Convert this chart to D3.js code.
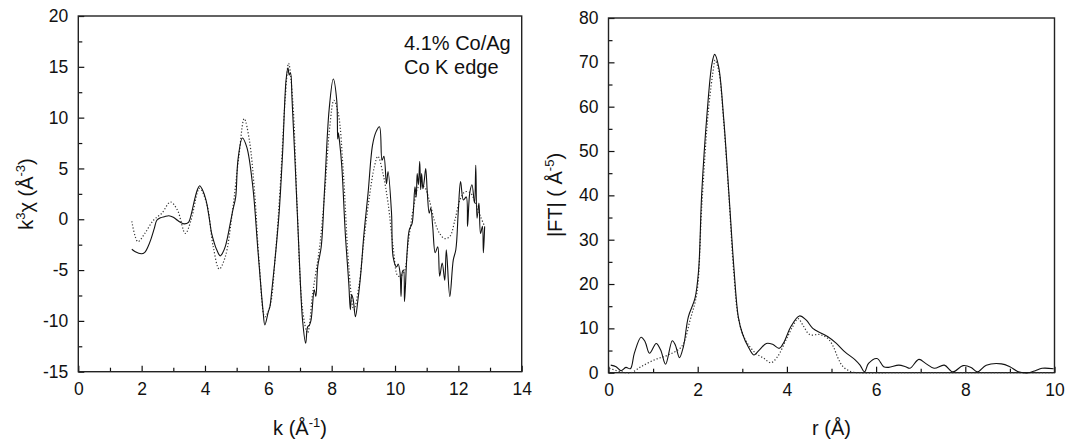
<!DOCTYPE html>
<html>
<head>
<meta charset="utf-8">
<script src="https://cdn.jsdelivr.net/npm/d3@7"></script>
<style>
  body { margin: 0; background: #fff; }
  text { font-family: "Liberation Sans", Arial, sans-serif; fill: #111; }
</style>
</head>
<body>
<div id="chart"></div>
<script>
// k-space EXAFS, experiment (solid) and fit (dotted)
const kExp = [1.69, 1.8, 1.99, 2.1, 2.2, 2.3, 2.4, 2.48, 2.6, 2.72, 2.86, 3.0, 3.13, 3.22, 3.34, 3.48, 3.56, 3.67, 3.76, 3.83, 3.92, 4.03, 4.12, 4.21, 4.3, 4.35, 4.48, 4.56, 4.64, 4.71, 4.78, 4.88, 4.97, 5.04, 5.18, 5.32, 5.51, 5.67, 5.83, 5.89, 6.0, 6.05, 6.1, 6.21, 6.34, 6.45, 6.56, 6.62, 6.66, 6.7, 6.75, 6.86, 6.97, 7.08, 7.18, 7.24, 7.3, 7.35, 7.45, 7.5, 7.56, 7.67, 7.78, 7.92, 8.05, 8.16, 8.19, 8.21, 8.25, 8.32, 8.43, 8.54, 8.59, 8.63, 8.68, 8.75, 8.83, 8.92, 9.02, 9.15, 9.29, 9.4, 9.51, 9.59, 9.65, 9.73, 9.78, 9.89, 9.94, 10.05, 10.1, 10.16, 10.19, 10.23, 10.27, 10.3, 10.38, 10.45, 10.54, 10.63, 10.67, 10.7, 10.74, 10.78, 10.81, 10.84, 10.88, 10.92, 10.97, 11.02, 11.08, 11.13, 11.19, 11.27, 11.35, 11.41, 11.49, 11.57, 11.62, 11.73, 11.84, 11.92, 12.0, 12.07, 12.16, 12.25, 12.29, 12.36, 12.43, 12.51, 12.55, 12.59, 12.65, 12.7, 12.76, 12.79, 12.83];
const chiExp = [-2.95, -3.2, -3.4, -3.25, -2.7, -1.9, -0.9, -0.1, 0.15, 0.25, 0.35, 0.2, -0.1, -0.3, -0.45, -0.3, 0.4, 1.9, 2.9, 3.3, 2.9, 1.9, 0.4, -1.4, -2.4, -2.85, -3.6, -3.3, -2.7, -1.8, -0.7, 0.9, 2.2, 5.8, 8.0, 7.1, 3.2, -3.0, -8.9, -10.4, -9.1, -8.6, -7.3, -4.0, 0.6, 6.5, 13.7, 14.9, 14.2, 14.4, 11.7, 4.5, -3.3, -9.9, -12.2, -10.6, -10.4, -9.9, -6.95, -7.6, -4.65, -2.7, 3.2, 10.8, 13.8, 11.7, 7.9, 8.5, 7.6, 5.2, -1.4, -6.3, -8.9, -7.4, -7.9, -9.6, -7.9, -5.3, -1.4, 2.6, 7.3, 8.6, 9.1, 5.8, 6.2, 3.5, 4.7, 0.6, -3.7, -4.7, -4.4, -5.3, -7.6, -5.2, -5.0, -8.1, -3.3, -1.05, -0.4, 3.2, 2.2, 4.5, 3.4, 5.7, 2.9, 4.5, 3.0, 3.7, 5.0, 2.6, 0.6, 1.1, -0.7, -3.3, -2.7, -5.6, -4.3, -6.0, -3.0, -7.6, -4.0, -3.0, 0.9, 3.7, 1.9, 2.2, -0.7, 2.6, 3.4, 1.6, 5.3, 0.1, 1.6, -1.4, -0.7, -3.3, -0.7];

const kFit = [1.69, 1.88, 2.1, 2.37, 2.64, 2.91, 3.13, 3.38, 3.56, 3.83, 4.05, 4.26, 4.45, 4.64, 4.86, 5.07, 5.24, 5.4, 5.56, 5.72, 5.89, 6.05, 6.21, 6.37, 6.53, 6.64, 6.77, 6.91, 7.08, 7.24, 7.4, 7.62, 7.78, 7.94, 8.07, 8.21, 8.37, 8.54, 8.7, 8.86, 9.02, 9.19, 9.35, 9.46, 9.62, 9.78, 9.94, 10.1, 10.27, 10.43, 10.59, 10.75, 10.92, 11.08, 11.24, 11.41, 11.57, 11.73, 11.89, 12.05, 12.21, 12.38, 12.54, 12.7, 12.83];
const chiFit = [-0.2, -2.2, -1.4, -0.1, 0.6, 1.7, 0.9, -1.4, -0.1, 3.05, 1.6, -2.7, -4.9, -3.7, 0.6, 6.2, 9.9, 7.8, 2.9, -4.65, -9.6, -8.6, -4.0, 2.9, 11.7, 15.35, 11.7, 1.25, -8.9, -11.2, -7.3, -2.7, 2.6, 9.1, 11.7, 10.4, 4.5, -4.65, -8.9, -6.6, -2.0, 2.2, 5.2, 6.2, 4.5, 1.6, -2.7, -5.6, -5.3, -2.0, 1.25, 3.2, 3.2, 1.9, -0.1, -1.4, -1.9, -1.7, -0.1, 1.9, 2.7, 2.6, 1.6, 0.26, -0.7];

// Fourier transform magnitude, experiment (solid) and fit (dotted)
const rExp = [0.05, 0.17, 0.28, 0.39, 0.49, 0.58, 0.73, 0.82, 0.92, 1.07, 1.17, 1.28, 1.43, 1.5, 1.59, 1.68, 1.79, 1.94, 2.02, 2.09, 2.21, 2.32, 2.38, 2.47, 2.58, 2.7, 2.81, 2.91, 3.0, 3.13, 3.26, 3.38, 3.54, 3.68, 3.83, 3.94, 4.09, 4.28, 4.43, 4.58, 4.77, 4.92, 5.11, 5.3, 5.53, 5.64, 5.74, 5.83, 6.02, 6.17, 6.28, 6.51, 6.66, 6.76, 6.96, 7.11, 7.3, 7.53, 7.72, 7.95, 8.13, 8.27, 8.47, 8.81, 9.0, 9.19, 9.42, 9.57, 9.72, 9.98];
const ftExp = [1.7, 1.35, 0.45, 1.2, 0.9, 4.4, 8.0, 7.0, 4.4, 6.6, 5.1, 1.9, 7.2, 6.2, 3.4, 5.9, 12.6, 16.8, 23.1, 40.4, 58.5, 69.7, 71.8, 69.0, 57.7, 40.4, 23.9, 12.6, 8.9, 5.9, 4.0, 5.1, 6.6, 6.4, 5.5, 7.0, 10.4, 12.8, 11.9, 10.0, 8.9, 8.1, 6.6, 4.7, 2.9, 1.7, 0.2, 2.1, 3.2, 1.35, 1.2, 1.7, 1.35, 1.0, 3.0, 2.1, 1.0, 1.7, 0.2, 1.6, 1.2, 0.2, 1.7, 2.0, 1.35, 0.2, 0.0, 0.45, 1.0, 0.9];

const rFit = [0.02, 0.28, 0.5, 0.73, 1.03, 1.34, 1.64, 1.83, 1.98, 2.09, 2.24, 2.36, 2.39, 2.47, 2.58, 2.7, 2.81, 2.92, 3.07, 3.3, 3.49, 3.64, 3.79, 3.98, 4.13, 4.25, 4.36, 4.51, 4.74, 4.92, 5.04, 5.15, 5.26, 5.45, 5.64, 6.5, 8.0, 10.0];
const ftFit = [1.0, 0.2, 0.0, 1.35, 2.9, 4.0, 5.9, 11.9, 17.9, 37.4, 59.2, 69.0, 70.5, 68.2, 57.0, 39.7, 22.4, 11.9, 7.4, 4.4, 3.2, 2.25, 3.6, 7.4, 10.4, 12.2, 10.7, 8.6, 8.6, 7.7, 5.9, 3.2, 1.35, 0.2, 0.0, 0.0, 0.0, 0.0];

const width = 1069, height = 441;
const svg = d3.select("#chart").append("svg").attr("width", width).attr("height", height);

function panel(opts) {
  const x = d3.scaleLinear().domain(opts.xDomain).range(opts.xRange);
  const y = d3.scaleLinear().domain(opts.yDomain).range(opts.yRange);
  const g = svg.append("g");

  // minor ticks
  g.append("g").attr("transform", `translate(0,${opts.yRange[0]})`)
    .call(d3.axisBottom(x).tickValues(opts.xMinor).tickSizeInner(-4).tickSizeOuter(0).tickFormat(""))
    .call(a => a.select(".domain").remove());
  g.append("g").attr("transform", `translate(${opts.xRange[0]},0)`)
    .call(d3.axisLeft(y).tickValues(opts.yMinor).tickSizeInner(-4).tickSizeOuter(0).tickFormat(""))
    .call(a => a.select(".domain").remove());

  // major ticks + labels (plain hyphen for negatives, as in the original)
  const xa = g.append("g").attr("transform", `translate(0,${opts.yRange[0]})`)
    .call(d3.axisBottom(x).tickValues(opts.xTicks).tickSizeInner(-6).tickSizeOuter(0).tickPadding(11).tickFormat(d => String(d)));
  xa.select(".domain").remove();
  const ya = g.append("g").attr("transform", `translate(${opts.xRange[0]},0)`)
    .call(d3.axisLeft(y).tickValues(opts.yTicks).tickSizeInner(-6).tickSizeOuter(0).tickPadding(10).tickFormat(d => String(d)));
  ya.select(".domain").remove();
  g.selectAll(".tick line").attr("stroke", "#111").attr("stroke-width", 1.2);
  g.selectAll(".tick text").style("font-size", "17.5px").style("font-family", "Liberation Sans, Arial, sans-serif").attr("fill", "#111");

  // frame
  g.append("rect")
    .attr("x", opts.xRange[0]).attr("y", opts.yRange[1])
    .attr("width", opts.xRange[1] - opts.xRange[0]).attr("height", opts.yRange[0] - opts.yRange[1])
    .attr("fill", "none").attr("stroke", "#222").attr("stroke-width", 1.4);

  // curves
  const lineFit = d3.line().x(d => x(d[0])).y(d => y(d[1])).curve(d3.curveCatmullRom.alpha(0.5));
  const lineExp = d3.line().x(d => x(d[0])).y(d => y(d[1])).curve(d3.curveCatmullRom.alpha(0.5));
  g.append("path").datum(d3.zip(opts.fitX, opts.fitY)).attr("d", lineFit)
    .attr("fill", "none").attr("stroke", "#333").attr("stroke-width", 1.2).attr("stroke-dasharray", "1.2,2");
  g.append("path").datum(d3.zip(opts.expX, opts.expY)).attr("d", lineExp)
    .attr("fill", "none").attr("stroke", "#111").attr("stroke-width", 1.1);

  return { x, y, g };
}

const left = panel({
  xDomain: [0, 14], xRange: [78.3, 521.7],
  yDomain: [-15, 20], yRange: [371.7, 16],
  xTicks: d3.range(0, 15, 2), xMinor: d3.range(1, 14, 2),
  yTicks: d3.range(-15, 21, 5), yMinor: d3.range(-12.5, 20, 5),
  expX: kExp, expY: chiExp, fitX: kFit, fitY: chiFit
});

const right = panel({
  xDomain: [0, 10], xRange: [608.5, 1054.5],
  yDomain: [0, 80], yRange: [372.7, 18],
  xTicks: d3.range(0, 11, 2), xMinor: d3.range(1, 10, 2),
  yTicks: d3.range(0, 81, 10), yMinor: d3.range(5, 80, 10),
  expX: rExp, expY: ftExp, fitX: rFit, fitY: ftFit
});

// axis titles
const titleSize = "20px";
const kt = svg.append("text").attr("x", 300).attr("y", 435).attr("text-anchor", "middle").style("font-size", titleSize);
kt.append("tspan").text("k (Å");
kt.append("tspan").attr("dy", -8).style("font-size", "13px").text("-1");
kt.append("tspan").attr("dy", 8).text(")");

const yt = svg.append("text").attr("transform", "translate(33,194) rotate(-90)").attr("text-anchor", "middle").style("font-size", titleSize);
yt.append("tspan").text("k");
yt.append("tspan").attr("dy", -8).style("font-size", "13px").text("3");
yt.append("tspan").attr("dy", 8).text("χ (Å");
yt.append("tspan").attr("dy", -8).style("font-size", "13px").text("-3");
yt.append("tspan").attr("dy", 8).text(")");

svg.append("text").attr("x", 831.5).attr("y", 435).attr("text-anchor", "middle").style("font-size", titleSize).text("r (Å)");

const ft = svg.append("text").attr("transform", "translate(562,195) rotate(-90)").attr("text-anchor", "middle").style("font-size", titleSize);
ft.append("tspan").text("|FT| ( Å");
ft.append("tspan").attr("dy", -8).style("font-size", "13px").text("-5");
ft.append("tspan").attr("dy", 8).text(")");

// annotation
svg.append("text").attr("x", 404).attr("y", 50).style("font-size", titleSize).text("4.1% Co/Ag");
svg.append("text").attr("x", 404).attr("y", 74).style("font-size", titleSize).text("Co K edge");
</script>
</body>
</html>
